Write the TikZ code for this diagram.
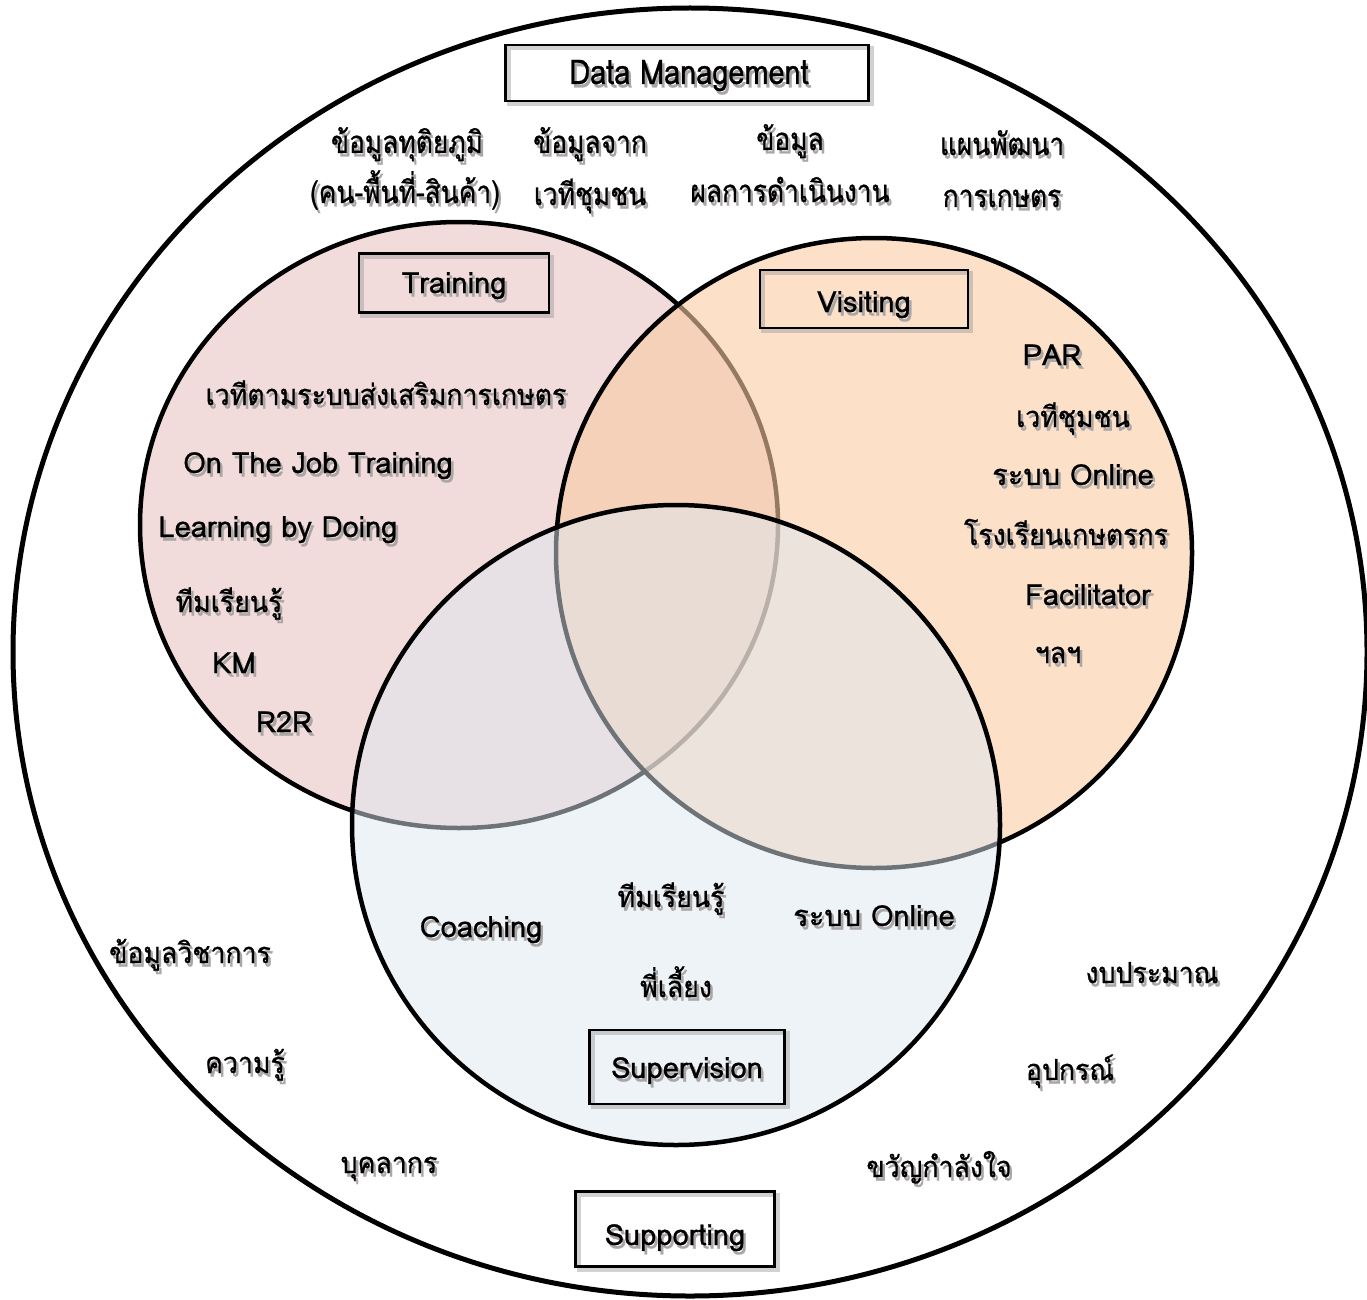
\documentclass[tikz,border=0pt]{standalone}
\usepackage{fontspec}
\setmainfont[Script=Thai,FakeBold=0.8]{Loma}
\newfontfamily\thaif[Script=Thai,FakeStretch=0.92,FakeBold=0.8]{Loma}
\newfontfamily\narrowf[Script=Thai,FakeStretch=0.85,FakeBold=0.8]{Loma}
\definecolor{trc}{RGB}{242,220,219}
\definecolor{visc}{RGB}{250,203,163}
\definecolor{supc}{RGB}{221,231,241}
\definecolor{shadowc}{RGB}{170,166,166}
\tikzset{
  txt/.style={inner sep=0pt, anchor=base, font=\fontsize{29}{34}\selectfont},
  thai/.style={font=\thaif\fontsize{29}{34}\selectfont},
  toptxt/.style={font=\narrowf\fontsize{31}{36}\selectfont},
  titletxt/.style={font=\narrowf\fontsize{34}{40}\selectfont},
  boxframe/.style={draw=black, line width=2.5pt, inner sep=0pt, rectangle},
  boxshadow/.style={draw=black!40, opacity=0.45, line width=4pt, inner sep=0pt, rectangle, xshift=3pt, yshift=-3pt},
  ring/.style={line width=4.5pt, draw=black}
}
% text with a soft offset shadow, kept inside one node
\newcommand\shd[1]{\makebox[0pt][l]{\kern2.5pt\raisebox{-3.5pt}[0pt][0pt]{\color{shadowc}#1}}#1}
\newcommand\stx[4][]{%
  \node[txt,#1] (#2) at (#3) {\shd{#4}};}
\begin{document}
\begin{tikzpicture}[x=1pt,y=-1pt]
\useasboundingbox (0,0) rectangle (1367,1300);
% outer circle
\draw[line width=5pt] (690,652) ellipse [x radius=677, y radius=644];
% three circles
\filldraw[ring, fill=trc] (459,525) ellipse [x radius=319, y radius=303];
\filldraw[ring, fill=visc, fill opacity=0.6] (874,553) ellipse [x radius=318, y radius=315];
\filldraw[ring, fill=supc, fill opacity=0.5] (676,825) ellipse [x radius=324, y radius=320];

% boxes
\node[boxshadow, minimum width=363, minimum height=56] (dmbs) at (687,73) {};
\node[boxframe, minimum width=363, minimum height=56] (dmb) at (687,73) {};
\node[boxshadow, minimum width=190, minimum height=59] (trbs) at (454,283) {};
\node[boxframe, minimum width=190, minimum height=59] (trb) at (454,283) {};
\node[boxshadow, minimum width=208, minimum height=58] (vibs) at (864,299) {};
\node[boxframe, minimum width=208, minimum height=58] (vib) at (864,299) {};
\node[boxshadow, minimum width=195, minimum height=74] (subs) at (687,1067) {};
\node[boxframe, minimum width=195, minimum height=74] (sub) at (687,1067) {};
\node[boxshadow, minimum width=199, minimum height=75] (spbs) at (675,1229) {};
\node[boxframe, minimum width=199, minimum height=75] (spb) at (675,1229) {};

% box labels
\stx[titletxt]{dm}{689,84}{Data Management}
\stx{tr}{454,293}{Training}
\stx{vi}{864,312}{Visiting}
\stx{su}{687,1078}{Supervision}
\stx{sp}{675,1245}{Supporting}

% data management items
\stx[toptxt]{d1a}{407,153}{ข้อมูลทุติยภูมิ}
\stx[toptxt]{d1b}{405,203}{(คน-พื้นที่-สินค้า)}
\stx[toptxt]{d2a}{590,153}{ข้อมูลจาก}
\stx[toptxt]{d2b}{590,205}{เวทีชุมชน}
\stx[toptxt]{d3a}{790,150}{ข้อมูล}
\stx[toptxt]{d3b}{790,202}{ผลการดำเนินงาน}
\stx[toptxt]{d4a}{1002,155}{แผนพัฒนา}
\stx[toptxt]{d4b}{1002,207}{การเกษตร}

% training items
\stx[thai]{t1}{386,405}{เวทีตามระบบส่งเสริมการเกษตร}
\stx{t2}{318,473}{On The Job Training}
\stx{t3}{278,537}{Learning by Doing}
\stx[thai]{t4}{229,612}{ทีมเรียนรู้}
\stx{t5}{234,673}{KM}
\stx{t6}{284,732}{R2R}

% visiting items
\stx{v1}{1052,365}{PAR}
\stx[thai]{v2}{1073,427}{เวทีชุมชน}
\stx{v3}{1073,485}{ระบบ Online}
\stx[thai]{v4}{1066,545}{โรงเรียนเกษตรกร}
\stx{v5}{1088,605}{Facilitator}
\stx[thai]{v6}{1058,663}{ฯลฯ}

% supervision items
\stx{s1}{481,937}{Coaching}
\stx[thai]{s2}{671,907}{ทีมเรียนรู้}
\stx{s3}{874,926}{ระบบ Online}
\stx[thai]{s4}{676,997}{พี่เลี้ยง}

% supporting items
\stx[thai]{p1}{190,963}{ข้อมูลวิชาการ}
\stx[thai]{p2}{245,1073}{ความรู้}
\stx[thai]{p3}{389,1173}{บุคลากร}
\stx[thai]{p4}{1152,983}{งบประมาณ}
\stx[thai]{p5}{1070,1080}{อุปกรณ์}
\stx[thai]{p6}{939,1177}{ขวัญกำลังใจ}
\end{tikzpicture}
\end{document}
